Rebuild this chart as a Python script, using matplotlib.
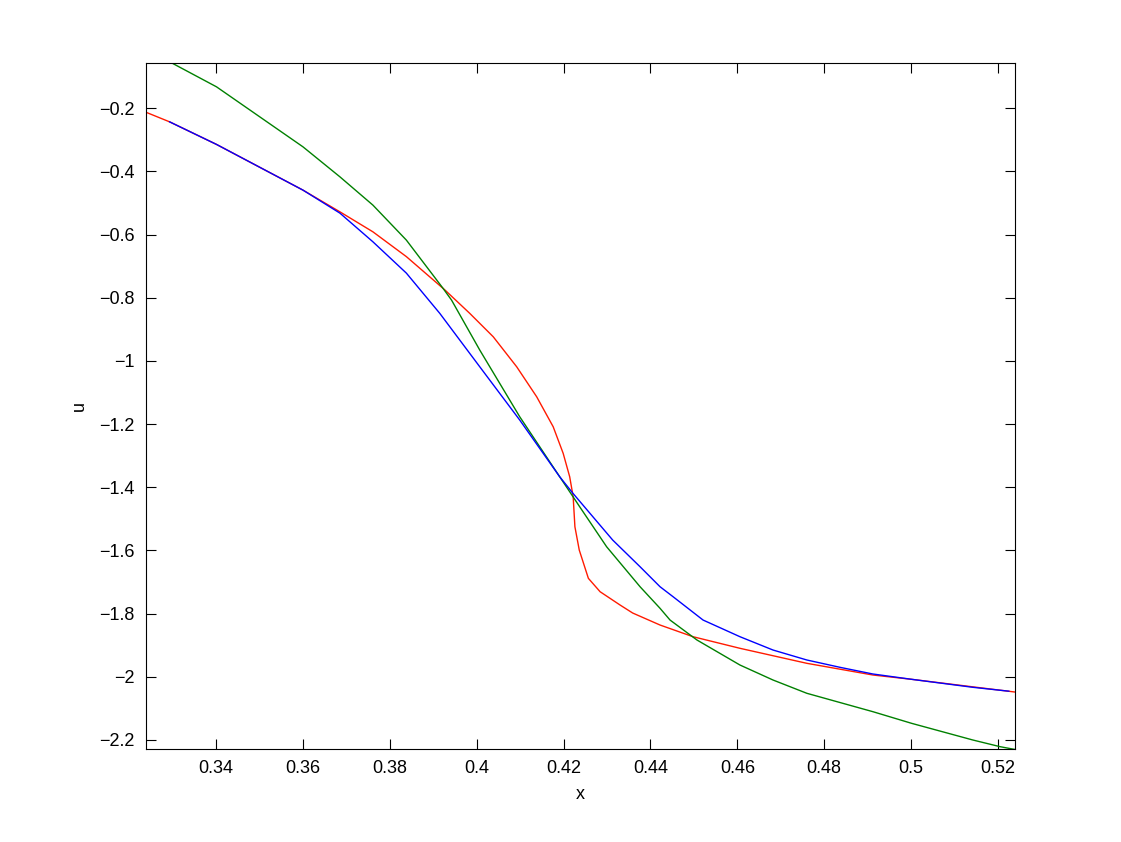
import numpy as np
import matplotlib
matplotlib.use("Agg")
from matplotlib import pyplot as plt

plt.rcParams['font.family'] = ['Liberation Sans', 'DejaVu Sans']

# values
x_red = [0.3238, 0.3293, 0.3401, 0.3600, 0.3685, 0.3761, 0.3838, 0.3927, 0.3984,
         0.4038, 0.4092, 0.4138, 0.4176, 0.4199, 0.4214, 0.4222, 0.4226, 0.4236,
         0.4257, 0.4284, 0.4330, 0.4359, 0.4422, 0.4498, 0.4606, 0.4760, 0.4912,
         0.5001, 0.5238]
u_red = [-0.2127, -0.2434, -0.3149, -0.4595, -0.5282, -0.5915, -0.6700, -0.7759, -0.8497,
         -0.9237, -1.0187, -1.1136, -1.2085, -1.2927, -1.3668, -1.4301, -1.5250, -1.5987,
         -1.6883, -1.7307, -1.7728, -1.7981, -1.8361, -1.8731, -1.9098, -1.9573, -1.9943,
         -2.0079, -2.0480]

x_blue = [0.3293, 0.3401, 0.3600, 0.3685, 0.3761, 0.3838, 0.3915, 0.4007,
          0.4099, 0.4191, 0.4221, 0.4313, 0.4376, 0.4422, 0.4452, 0.4521, 0.4606,
          0.4682, 0.4760, 0.4836, 0.4912, 0.5001, 0.5142, 0.5225]
u_blue = [-0.2434, -0.3149, -0.4595, -0.5323, -0.6231, -0.7222, -0.8497, -1.0187,
          -1.1873, -1.3668, -1.4184, -1.5671, -1.6516, -1.7149, -1.7465, -1.8203, -1.8731,
          -1.9152, -1.9468, -1.9699, -1.9911, -2.0079, -2.0332, -2.0455]

x_green = [0.3238, 0.3300, 0.3401, 0.3600, 0.3685, 0.3761, 0.3838, 0.3922, 0.3942,
           0.4007, 0.4099, 0.4191, 0.4237, 0.4299, 0.4376, 0.4422, 0.4445, 0.4507,
           0.4606, 0.4682, 0.4760, 0.4912, 0.5001, 0.5142, 0.5205, 0.5238]
u_green = [-0.0130, -0.0585, -0.1326, -0.3225, -0.4174, -0.5070, -0.6177, -0.7696, -0.8076,
           -0.9658, -1.1769, -1.3668, -1.4617, -1.5883, -1.7149, -1.7832, -1.8203, -1.8835,
           -1.9627, -2.0101, -2.0522, -2.1104, -2.1472, -2.2000, -2.2212, -2.2297]

xticks = [0.34, 0.36, 0.38, 0.4, 0.42, 0.44, 0.46, 0.48, 0.5, 0.52]
yticks = [-2.2, -2, -1.8, -1.6, -1.4, -1.2, -1, -0.8, -0.6, -0.4, -0.2]

fig = plt.figure(figsize=(11.21, 8.42), dpi=100)
ax = fig.add_axes([0.13, 0.11, 0.775, 0.815])

ax.plot(x_red, u_red, color=(1, 0.1, 0), lw=1.0)
ax.plot(x_green, u_green, color=(0, 0.5, 0), lw=1.0)
ax.plot(x_blue, u_blue, color=(0, 0, 1), lw=1.0)

ax.set_xlim(0.3238, 0.5238)
ax.set_ylim(-2.2297, -0.0576)
ax.set_xticks(xticks)
ax.set_xticklabels(['0.34', '0.36', '0.38', '0.4', '0.42', '0.44', '0.46', '0.48', '0.5', '0.52'])
ax.set_yticks(yticks)
ax.set_yticklabels(['\u22122.2', '\u22122', '\u22121.8', '\u22121.6', '\u22121.4', '\u22121.2',
                    '\u22121', '\u22120.8', '\u22120.6', '\u22120.4', '\u22120.2'])
ax.tick_params(direction='in', top=True, right=True, length=7, width=0.8, labelsize=13, pad=8)
for s in ax.spines.values():
    s.set_linewidth(0.8)

ax.set_xlabel('x', fontsize=13, labelpad=6)
ax.set_ylabel('u', fontsize=13, labelpad=8)

fig.savefig('out.png', dpi=100)
